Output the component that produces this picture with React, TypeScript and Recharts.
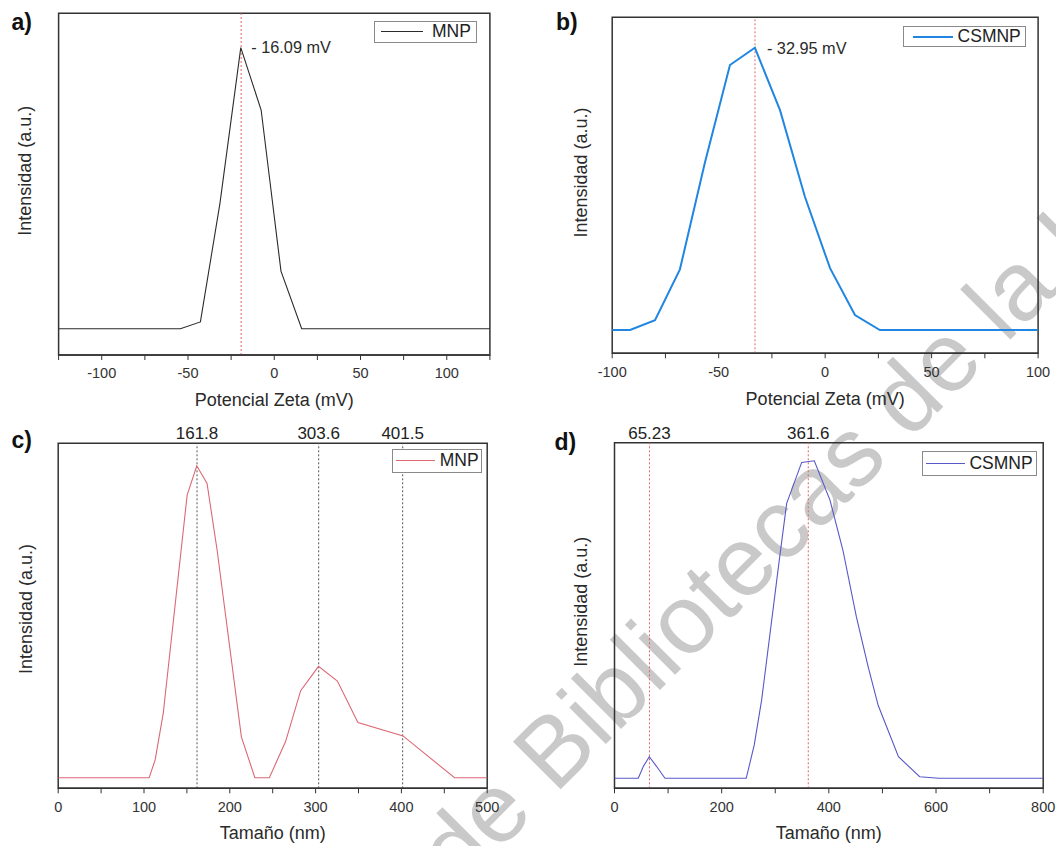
import React from "react";
import {
  LineChart, Line, XAxis, YAxis, ReferenceLine, ReferenceArea,
  ReferenceDot, Legend,
} from "recharts";

const FONT = '"Liberation Sans", Arial, Helvetica, sans-serif';

// a) potencial zeta, MNP
const zetaMnpX = [-125, -54.4, -42.8, -31.5, -19.4, -7.6, 3.9, 15.9, 125];
const zetaMnpY = [0, 0, 2.4, 44.5, 100, 77.8, 20.5, 0, 0];
const zetaMnpRefs = [-19.2];
const zetaTicksA = [-125, -100, -75, -50, -25, 0, 25, 50, 75, 100, 125];

// b) potencial zeta, CSMNP
const zetaCsX = [-100, -91.6, -79.9, -68.2, -56.4, -44.7, -33.0, -21.2, -9.5, 2.3, 14.0, 25.7, 100];
const zetaCsY = [0, 0, 3.5, 21.5, 59.5, 93.9, 100, 77.9, 47.2, 21.9, 5.3, 0, 0];
const zetaCsRefs = [-32.95];
const zetaTicksB = [-100, -75, -50, -25, 0, 25, 50, 75, 100];

// c) tamaño, MNP
const sizeMnpX = [0, 106.0, 113.0, 122.4, 150.3, 161.5, 173.5, 185.2, 213.5, 229.2, 246.1, 264.9, 282.6, 303.4, 325.4, 349.3, 401.9, 461.9, 500];
const sizeMnpY = [0, 0, 5.7, 20.6, 90.6, 100, 94.3, 73.0, 13.1, 0, 0, 11.5, 27.9, 35.7, 31.0, 17.7, 13.4, 0, 0];
const sizeMnpRefs = [161.8, 303.6, 401.5];
const sizeTicksC = [0, 50, 100, 150, 200, 250, 300, 350, 400, 450, 500];

// d) tamaño, CSMNP
const sizeCsX = [0, 44.4, 53.7, 64.9, 78.7, 94.2, 245.8, 260.8, 274.6, 307.5, 321.3, 349.3, 372.8, 402.1, 426.2, 451.3, 473.3, 492.0, 529.9, 569.5, 605.3, 800];
const sizeCsY = [0, 0, 3.7, 6.8, 3.7, 0, 0, 10.5, 24.7, 68.7, 86.6, 99.5, 100, 87.6, 71.9, 50.9, 35.2, 23.0, 6.8, 0.5, 0, 0];
const sizeCsRefs = [65.23, 361.6];
const sizeTicksD = [0, 100, 200, 300, 400, 500, 600, 700, 800];

const toRows = (xs: number[], ys: number[]) => xs.map((x, i) => ({ x, y: ys[i] }));

type LegendCfg = { left: number; top: number; w: number; h: number; pad: number; line: number; gap: number };

type PanelProps = {
  left: number; top: number; width: number; height: number;
  margin: { top: number; right: number; left: number; bottom: number };
  axisHeight: number;
  xs: number[]; ys: number[];
  xDomain: [number, number]; yDomain: [number, number];
  ticks: number[]; major: (v: number) => boolean;
  xTitle: string; titleOffset: number;
  name: string; color: string; strokeWidth: number;
  refs: number[]; refColor: string; topLabels: boolean;
  note?: string; noteOffset?: number;
  legend: LegendCfg;
};

function Panel(p: PanelProps) {
  const data = toRows(p.xs, p.ys);
  const peak = p.ys.indexOf(Math.max(...p.ys));
  const lg = p.legend;
  return (
    <div style={{ position: "absolute", left: p.left, top: p.top }}>
      <LineChart width={p.width} height={p.height} data={data} margin={p.margin}>
        <XAxis
          type="number"
          dataKey="x"
          domain={p.xDomain}
          ticks={p.ticks}
          interval={0}
          allowDataOverflow
          height={p.axisHeight}
          tickFormatter={(v: number) => (p.major(v) ? String(v) : "")}
          tick={{ fontSize: 14.5, fill: "#333" }}
          tickSize={5}
          tickMargin={8}
          axisLine={{ stroke: "#333", strokeWidth: 1.5 }}
          tickLine={{ stroke: "#333" }}
          label={{ value: p.xTitle, position: "insideBottom", offset: p.titleOffset, fontSize: 18, fill: "#2a2a2a" }}
        />
        <YAxis hide type="number" domain={p.yDomain} allowDataOverflow />
        <ReferenceArea
          x1={p.xDomain[0]} x2={p.xDomain[1]} y1={p.yDomain[0]} y2={p.yDomain[1]}
          fill="none" fillOpacity={0} stroke="#333" strokeWidth={1.5}
        />
        {p.refs.map((r) => (
          <ReferenceLine
            key={r}
            x={r}
            stroke={p.refColor}
            strokeWidth={1}
            strokeDasharray="2 2"
            label={p.topLabels ? { value: String(r), position: "top", offset: 4, fontSize: 17, fill: "#222" } : undefined}
          />
        ))}
        <Line type="linear" dataKey="y" stroke={p.color} strokeWidth={p.strokeWidth} dot={false} isAnimationActive={false} />
        {p.note && (
          <ReferenceDot
            x={p.xs[peak]} y={p.ys[peak]} r={1} fill="none" stroke="none"
            label={{ value: p.note, position: "right", offset: p.noteOffset, fontSize: 16.3, fill: "#2a2a2a" }}
          />
        )}
        <Legend
          layout="vertical"
          align="center"
          verticalAlign="middle"
          wrapperStyle={{ left: lg.left, top: lg.top, width: lg.w, height: lg.h }}
          content={() => (
            <div style={{
              boxSizing: "border-box", width: lg.w, height: lg.h, border: "1.5px solid #8a8a8a",
              background: "#fff", display: "flex", alignItems: "center", paddingLeft: lg.pad,
              fontFamily: FONT, fontSize: 17.5, color: "#222", lineHeight: 1,
            }}>
              <span style={{ display: "inline-block", width: lg.line, borderTop: `${Math.max(1, p.strokeWidth)}px solid ${p.color}`, marginRight: lg.gap }} />
              <span>{p.name}</span>
            </div>
          )}
        />
      </LineChart>
    </div>
  );
}

export default function App() {
  return (
    <div style={{ position: "absolute", left: 0, top: 0, width: 1056, height: 846, background: "#fff", fontFamily: FONT, overflow: "hidden" }}>
      {/* watermark sits under the charts */}
      <svg width={1056} height={846} style={{ position: "absolute", left: 0, top: 0, pointerEvents: "none" }}>
        <g transform="translate(555,795) rotate(-45)" fontFamily={FONT} fontSize={98} fill="#c9c9c9">
          <text x={0} y={0} textAnchor="end">{"Dirección General de\u00a0"}</text>
          <text x={0} y={0} textAnchor="start">Bibliotecas de la UAQ</text>
        </g>
      </svg>
      <Panel
        left={0} top={0} width={528} height={420}
        margin={{ top: 13.3, right: 38.1, left: 58.6, bottom: 0 }} axisHeight={65}
        xs={zetaMnpX} ys={zetaMnpY} xDomain={[-125, 125]} yDomain={[-9.36, 112.2]}
        ticks={zetaTicksA} major={(v) => v % 50 === 0}
        xTitle="Potencial Zeta (mV)" titleOffset={14.5}
        name="MNP" color="#2b2b2b" strokeWidth={1.1}
        refs={zetaMnpRefs} refColor="#e06464" topLabels={false}
        note="- 16.09 mV" noteOffset={9.5}
        legend={{ left: 373.7, top: 20.7, w: 103.4, h: 22.6, pad: 6.8, line: 42, gap: 8.5 }}
      />
      <Panel
        left={528} top={0} width={528} height={420}
        margin={{ top: 17.3, right: 17.9, left: 84.2, bottom: 0 }} axisHeight={66.7}
        xs={zetaCsX} ys={zetaCsY} xDomain={[-100, 100]} yDomain={[-8.25, 110.8]}
        ticks={zetaTicksB} major={(v) => v % 50 === 0}
        xTitle="Potencial Zeta (mV)" titleOffset={15.3}
        name="CSMNP" color="#2186e2" strokeWidth={2}
        refs={zetaCsRefs} refColor="#e06464" topLabels={false}
        note="- 32.95 mV" noteOffset={11}
        legend={{ left: 375.4, top: 26, w: 122.9, h: 21.3, pad: 8.4, line: 39.8, gap: 5 }}
      />
      <Panel
        left={0} top={420} width={528} height={426}
        margin={{ top: 23.3, right: 40.8, left: 58.2, bottom: 0 }} axisHeight={57.7}
        xs={sizeMnpX} ys={sizeMnpY} xDomain={[0, 500]} yDomain={[-3.4, 107.2]}
        ticks={sizeTicksC} major={(v) => v % 100 === 0}
        xTitle="Tamaño (nm)" titleOffset={7.5}
        name="MNP" color="#dc6874" strokeWidth={1.1}
        refs={sizeMnpRefs} refColor="#555" topLabels={true}
        legend={{ left: 392.3, top: 29, w: 89.9, h: 23.7, pad: 2.3, line: 39.7, gap: 4.5 }}
      />
      <Panel
        left={528} top={420} width={528} height={426}
        margin={{ top: 22.7, right: 12.8, left: 86.5, bottom: 0 }} axisHeight={57.7}
        xs={sizeCsX} ys={sizeCsY} xDomain={[0, 800]} yDomain={[-3.15, 105.7]}
        ticks={sizeTicksD} major={(v) => v % 200 === 0}
        xTitle="Tamaño (nm)" titleOffset={7.5}
        name="CSMNP" color="#5858c8" strokeWidth={1.1}
        refs={sizeCsRefs} refColor="#e06464" topLabels={true}
        legend={{ left: 394, top: 30.7, w: 115.1, h: 25.3, pad: 2.6, line: 39.4, gap: 4.5 }}
      />
      <svg width={1056} height={846} style={{ position: "absolute", left: 0, top: 0, pointerEvents: "none" }}>
        <g fontFamily={FONT} fontWeight="bold" fontSize={23} fill="#111">
          <text x={11.5} y={29.5}>a)</text>
          <text x={556} y={29.5}>b)</text>
          <text x={11.5} y={447.5}>c)</text>
          <text x={554.5} y={449.5}>d)</text>
        </g>
        <g fontFamily={FONT} fontSize={18} fill="#2a2a2a" textAnchor="middle" dominantBaseline="central">
          <text transform="translate(25.3,170.8) rotate(-90)">Intensidad (a.u.)</text>
          <text transform="translate(581,172.5) rotate(-90)">Intensidad (a.u.)</text>
          <text transform="translate(26,609) rotate(-90)">Intensidad (a.u.)</text>
          <text transform="translate(581,601.7) rotate(-90)">Intensidad (a.u.)</text>
        </g>
      </svg>
    </div>
  );
}
